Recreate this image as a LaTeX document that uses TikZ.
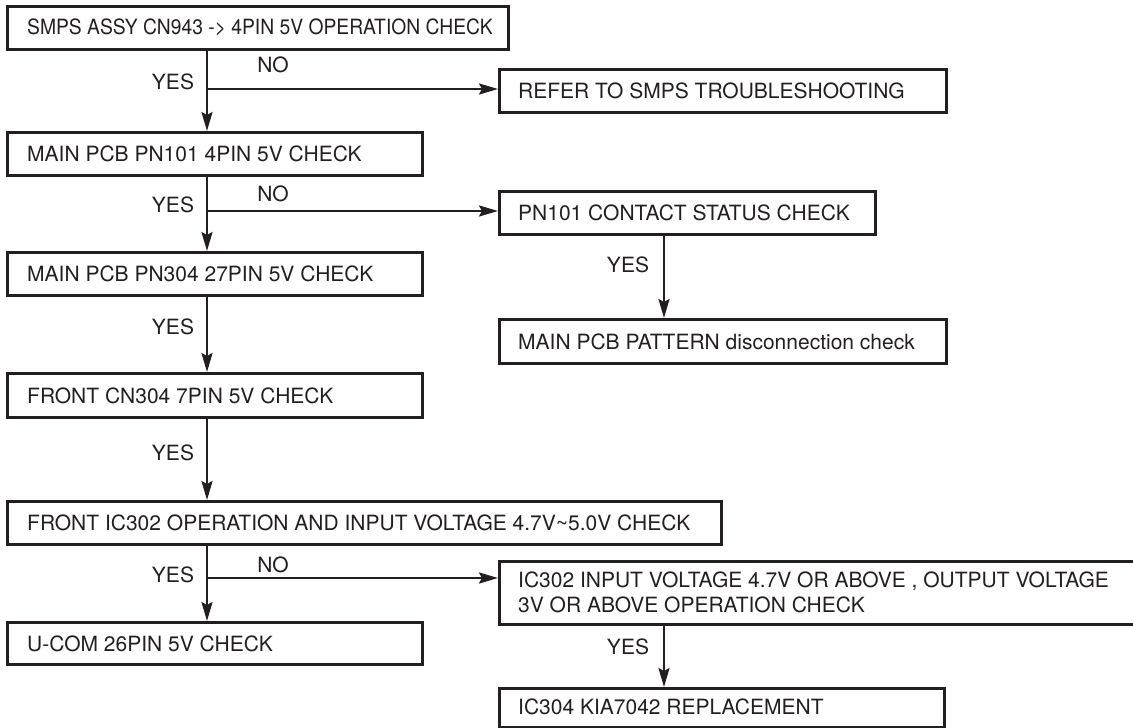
\documentclass[tikz,border=0pt]{standalone}
\usepackage{fontspec}
\usepackage{graphicx}
\setmainfont{TeX Gyre Heros}
\usetikzlibrary{arrows.meta,calc}
\definecolor{ink}{HTML}{231F20}
\newcommand{\labfont}{\fontsize{21}{25}\selectfont}
\tikzset{
  box/.style={draw=ink, line width=2.7pt, anchor=north west, inner sep=0pt},
  txt/.style={font=\labfont, text=ink, anchor=west, inner sep=0pt, align=left},
  arr/.style={draw=ink, line width=2.4pt, -{Stealth[length=19pt,width=11pt,inset=3pt]}},
  lbl/.style={font=\labfont, text=ink, inner sep=0pt}
}
\begin{document}
\begin{tikzpicture}[x=1pt,y=-1pt]
\useasboundingbox (0,0) rectangle (1133,728);
% left column boxes
\node[box, minimum width=501pt, minimum height=43pt] (b1) at (6,5) {};
\node[box, minimum width=415pt, minimum height=43pt] (b2) at (6,131) {};
\node[box, minimum width=415pt, minimum height=43pt] (b3) at (6,251) {};
\node[box, minimum width=415pt, minimum height=44pt] (b4) at (6,372) {};
\node[box, minimum width=714pt, minimum height=43pt] (b5) at (6,500) {};
\node[box, minimum width=415pt, minimum height=42pt] (b6) at (6,621) {};
% right column boxes
\node[box, minimum width=447pt, minimum height=43pt] (r1) at (498,68) {};
\node[box, minimum width=376pt, minimum height=43pt] (r2) at (498,190) {};
\node[box, minimum width=447pt, minimum height=44pt] (r3) at (498,318) {};
\node[box, minimum width=645pt, minimum height=63pt] (r4) at (498,560) {};
\node[box, minimum width=445pt, minimum height=39pt] (r5) at (498,687) {};
% box texts
\node[txt] (t1) at ($(b1.west)+(21,0)$) {\scalebox{0.918}[1]{SMPS ASSY CN943 -> 4PIN 5V OPERATION CHECK}};
\node[txt] (t2) at ($(b2.west)+(21,0)$) {MAIN PCB PN101 4PIN 5V CHECK};
\node[txt] (t3) at ($(b3.west)+(21,0)$) {MAIN PCB PN304 27PIN 5V CHECK};
\node[txt] (t4) at ($(b4.west)+(21,0)$) {FRONT CN304 7PIN 5V CHECK};
\node[txt] (t5) at ($(b5.west)+(21,0)$) {FRONT IC302 OPERATION AND INPUT VOLTAGE 4.7V\textasciitilde5.0V CHECK};
\node[txt] (t6) at ($(b6.west)+(21,0)$) {U-COM 26PIN 5V CHECK};
\node[txt] (s1) at ($(r1.west)+(20,0)$) {REFER TO SMPS TROUBLESHOOTING};
\node[txt] (s2) at ($(r2.west)+(20,0)$) {PN101 CONTACT STATUS CHECK};
\node[txt] (s3) at ($(r3.west)+(20,0)$) {MAIN PCB PATTERN disconnection check};
\node[txt] (s4) at ($(r4.west)+(20,-1)$) {IC302 INPUT VOLTAGE 4.7V OR ABOVE , OUTPUT VOLTAGE\\3V OR ABOVE OPERATION CHECK};
\node[txt] (s5) at ($(r5.west)+(20,-1)$) {IC304 KIA7042 REPLACEMENT};
% axis coordinates
\coordinate (ax) at (207,0);
\coordinate (rx) at (664,0);
\coordinate (n1) at (207,89);
\coordinate (n2) at (207,211);
\coordinate (n3) at (207,578);
% vertical YES arrows
\draw[arr] (b1.south -| ax) -- (b2.north -| ax);
\draw[arr] (b2.south -| ax) -- (b3.north -| ax);
\draw[arr] (b3.south -| ax) -- (b4.north -| ax);
\draw[arr] (b4.south -| ax) -- (b5.north -| ax);
\draw[arr] (b5.south -| ax) -- (b6.north -| ax);
\draw[arr] (r2.south -| rx) -- (r3.north -| rx);
\draw[arr] (r4.south -| rx) -- (r5.north -| rx);
% horizontal NO arrows
\draw[arr] (n1) -- (n1 -| r1.west);
\draw[arr] (n2) -- (n2 -| r2.west);
\draw[arr] (n3) -- (n3 -| r4.west);
% labels
\node[lbl] (y1) at (173,82) {YES};
\node[lbl] (y2) at (173,205) {YES};
\node[lbl] (y3) at (173,327) {YES};
\node[lbl] (y4) at (173,453) {YES};
\node[lbl] (y5) at (173,575) {YES};
\node[lbl] (y6) at (628,265) {YES};
\node[lbl] (y7) at (628,647) {YES};
\node[lbl] (o1) at (273,65) {NO};
\node[lbl] (o2) at (273,194) {NO};
\node[lbl] (o3) at (273,565) {NO};
\end{tikzpicture}
\end{document}
